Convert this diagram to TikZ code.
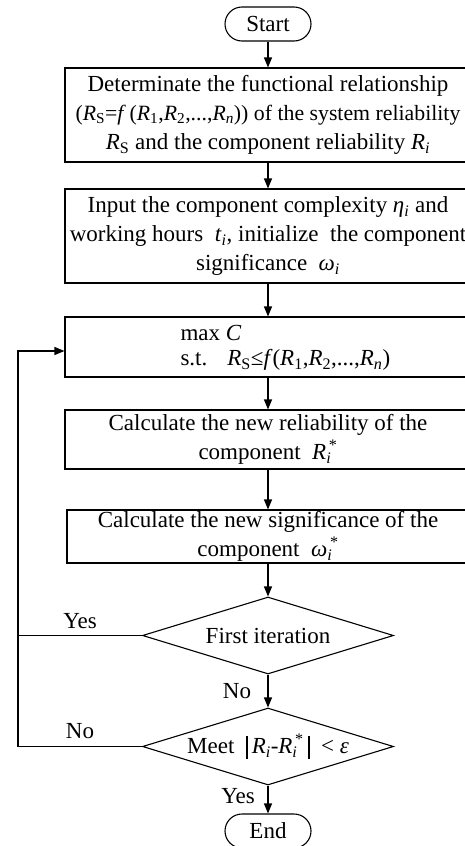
\documentclass[tikz,border=0pt]{standalone}
\usepackage{fontspec}
\setmainfont{Liberation Serif}
\usetikzlibrary{shapes.geometric,arrows.meta}
\newcommand\mi[1]{\textit{#1}}
\newcommand\Sb[1]{\textsubscript{#1}}
\newcommand\RiStar{\mi{R}\rlap{\Sb{\mi{i}}}\textsuperscript{\,*}}
\newcommand\WiStar{\mi{ω}\rlap{\Sb{\mi{i}}}\textsuperscript{\,*}}
\newcommand\Bar{\rule[-5pt]{2pt}{23pt}}
\begin{document}
\begin{tikzpicture}[x=1pt,y=-1pt,
  font=\fontsize{23}{29}\selectfont, line width=1.1pt,
  box/.style={draw, rectangle, minimum width=406pt, align=center, inner sep=0pt},
  term/.style={draw, rounded corners=17pt, minimum width=86pt, minimum height=34pt, inner sep=0pt},
  dec/.style={draw, diamond, aspect=3.26, minimum width=251pt, minimum height=77pt, inner sep=0pt},
  arr/.style={-{Triangle[length=10pt,width=8pt]}},
  lbl/.style={inner sep=0pt}]
\useasboundingbox (0,0) rectangle (465,846);
\clip (0,0) rectangle (465,846);

\node[term] (start) at (268,24) {Start};
\node[box, minimum height=94pt] (b1) at (268,115)
  {Determinate the functional relationship\\
   {\fontsize{21.8}{29}\selectfont(\mi{R}\Sb{S}=\mi{f}\,(\mi{R}\Sb{1},\mi{R}\Sb{2},...,\mi{R}\Sb{\mi{n}})) of the system reliability}\\
   \mi{R}\Sb{S} and the component reliability \mi{R}\Sb{\mi{i}}};
\node[box, minimum height=94pt] (b2) at (268,236)
  {Input the component complexity \mi{η}\Sb{\mi{i}} and\\
   working hours ~\mi{t}\Sb{\mi{i}}, initialize ~the component\\
   significance ~\mi{ω}\Sb{\mi{i}}};
\node[box, minimum height=60pt] (b3) at (268,347) {};
\node[lbl, anchor=west, align=left, font=\fontsize{23}{25}\selectfont] (b3t) at (180,348)
  {max \mi{C}\\
   s.t.\hspace{20pt}\mi{R}\Sb{S}≤\mi{f}(\mi{R}\Sb{1},\mi{R}\Sb{2},...,\mi{R}\Sb{\mi{n}})};
\node[box, minimum height=59pt] (b4) at (268,439.5)
  {Calculate the new reliability of the\\ component ~\RiStar};
\node[box, minimum width=402pt, minimum height=53pt] (b5) at (268,536.5)
  {Calculate the new significance of the\\ component ~\WiStar};
\node[dec] (d1) at (268,635.5) {First iteration};
\node[dec] (d2) at (268,746.5) {Meet ~\Bar\,\mi{R}\Sb{\mi{i}}-\RiStar\,\Bar~ < \mi{ε}};
\node[term] (end) at (268,831) {End};

\draw[arr] (start) -- (b1);
\draw[arr] (b1) -- (b2);
\draw[arr] (b2) -- (b3);
\draw[arr] (b3) -- (b4);
\draw[arr] (b4) -- (b5);
\draw[arr] (b5) -- (d1);
\draw[arr] (d1) -- (d2);
\draw[arr] (d2) -- (end);

\coordinate (lb) at (18,746.5);
\coordinate (lt) at (18,351);
\draw (d1.west) -- (d1.west -| lb);
\draw[arr] (d2.west) -- (lb) -- (lt) -- (lt -| b3.west);

\node[lbl] (yes1) at (80,621) {Yes};
\node[lbl] (no1) at (80,731) {No};
\node[lbl] (no2) at (237,691) {No};
\node[lbl] (yes2) at (238,796) {Yes};
\end{tikzpicture}
\end{document}
